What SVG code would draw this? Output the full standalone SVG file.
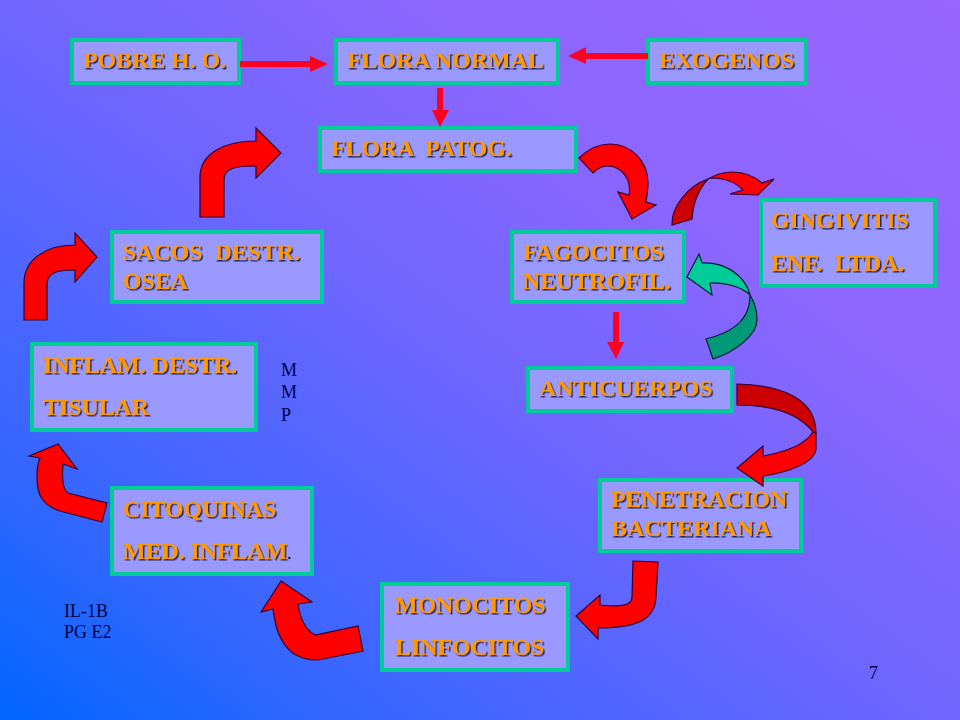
<svg xmlns="http://www.w3.org/2000/svg" width="960" height="720" viewBox="0 0 960 720">
<defs>
<linearGradient id="bg" x1="0" y1="1" x2="1" y2="0"><stop offset="0" stop-color="#0066ff"/><stop offset="0.2" stop-color="#3866ff"/><stop offset="0.5" stop-color="#7066ff"/><stop offset="0.72" stop-color="#8c66ff"/><stop offset="1" stop-color="#9966ff"/></linearGradient>
<filter id="sh" x="-5%" y="-20%" width="110%" height="140%"><feDropShadow dx="1.5" dy="1.5" stdDeviation="0.3" flood-color="#222255"/></filter>
</defs>
<style>
.box{fill:#9999ff;stroke:#00cc99;stroke-width:4}
.t{font:bold 23.85px "Liberation Serif","Times New Roman",serif;fill:#ff9900;filter:url(#sh);white-space:pre}
.s{font:18px "Liberation Serif","Times New Roman",serif;fill:#000044}
.a{fill:#ff0000;stroke:#330033;stroke-width:1.2}
.d{fill:#cc0000;stroke:#330033;stroke-width:1.2}
.g{fill:#00cc99;stroke:#002233;stroke-width:1.2}
.gd{fill:#009977;stroke:#002233;stroke-width:1.2}
.f{fill:#ff0022}
</style>
<rect width="960" height="720" fill="url(#bg)"/>
<g id="pobre"><rect class="box" x="72" y="40" width="167" height="43"/><text class="t" x="83" y="68">POBRE H. O.</text></g>
<g id="flora-normal"><rect class="box" x="336" y="40" width="222" height="43"/><text class="t" x="347" y="68">FLORA NORMAL</text></g>
<g id="exogenos"><rect class="box" x="648" y="40" width="158" height="43"/><text class="t" x="659" y="68">EXOGENOS</text></g>
<g id="flora-patog"><rect class="box" x="320" y="128" width="256" height="43"/><text class="t" x="331" y="156">FLORA  PATOG.</text></g>
<g id="sacos"><rect class="box" x="112" y="232" width="210" height="70"/><text class="t" x="123" y="260">SACOS  DESTR.</text><text class="t" x="123" y="289">OSEA</text></g>
<g id="fagocitos"><rect class="box" x="512" y="232" width="172" height="70"/><text class="t" x="523" y="260">FAGOCITOS</text><text class="t" x="523" y="289">NEUTROFIL.</text></g>
<g id="gingivitis"><rect class="box" x="761" y="200" width="174" height="86"/><text class="t" x="771" y="228">GINGIVITIS</text><text class="t" x="771" y="271">ENF.  LTDA.</text></g>
<g id="anticuerpos"><rect class="box" x="528" y="368" width="204" height="43"/><text class="t" x="539" y="396">ANTICUERPOS</text></g>
<g id="penetracion"><rect class="box" x="600" y="480" width="201" height="71"/><text class="t" x="611" y="507">PENETRACION</text><text class="t" x="611" y="536">BACTERIANA</text></g>
<g id="monocitos"><rect class="box" x="382" y="584" width="186" height="86"/><text class="t" x="395" y="613">MONOCITOS</text><text class="t" x="395" y="655">LINFOCITOS</text></g>
<g id="citoquinas"><rect class="box" x="112" y="488" width="200" height="86"/><text class="t" x="123" y="517">CITOQUINAS</text><text class="t" x="123" y="559">MED. INFLAM</text><text class="s" x="287" y="559">.</text></g>
<g id="inflam"><rect class="box" x="32" y="344" width="224" height="86"/><text class="t" x="43" y="373">INFLAM. DESTR.</text><text class="t" x="43" y="415">TISULAR</text></g>
<g id="connectors">
<path class="f" d="M240 61H310V56L328 64L310 72V67H240Z"/>
<path class="f" d="M648 53H586V47L568 56L586 64V59H648Z"/>
<path class="f" d="M437 88H443V110H449L440 127L432 110H437Z"/>
<path class="f" d="M613 312H619V342H624L616 359L607 342H613Z"/>
<path class="a" d="M200 217V177C200 155 222 141 256 141V128L281 153L256 178V166C235 166 224 168 224 180V217Z"/>
<path class="a" d="M24 320V283C24 260 45 245 75 245V233L97 257L75 282V270C57 270 47 272 47 285V320Z"/>
<path class="a" d="M29 456L58 444L77 469L63 464C62 475 62 489 68 493L107 503L102 522L60 511C42 505 37 495 37 477C37 468 38 462 40 458Z"/>
<path class="a" d="M281 581L312 602L298 604C300 618 306 630 315 635L358 626L363 651L318 660C296 660 285 650 278 632C275 624 274 616 273 609L261 612Z"/>
<path class="a" d="M633 561L658 562L656 597C655 618 640 628 598 628V639L576 616L600 595V605C620 607 632 606 632 597Z"/>
<path class="d" d="M737 384C780 385 816 398 816 433L813 432C800 415 775 405 737 405Z"/>
<path class="a" d="M816 433V448C816 462 790 472 763 476V486L737 468L763 446V456C785 452 805 445 813 432Z"/>
<path class="a" d="M579 158C588 149 598 144 610 144C632 144 648 162 648 183C648 190 647 196 646 202L656 205L632 219L618 192L629 195C632 180 622 166 607 166C601 166 597 169 593 173Z"/>
<path class="d" d="M672 225C671 208 687 186 708 179C698 190 693 203 692 219Z"/>
<path class="a" d="M708 179C716 174 725 172 733 172C745 172 755 177 762 183L774 179L758 195L730 194L743 190C738 184 730 180 717 178C713 178 710 178 708 179Z"/>
<path class="gd" d="M750 295C755 303 757 310 757 320C757 335 735 352 713 359L706 339C730 333 750 322 750 295Z"/>
<path class="g" d="M687 277L699 254L702 263C725 262 745 275 750 295C742 287 725 282 710 283L712 295Z"/>
</g>
<g id="labels"><text class="s" x="281" y="376">M</text><text class="s" x="281" y="398">M</text><text class="s" x="281" y="421">P</text><text class="s" x="64" y="617">IL-1B</text><text class="s" x="64" y="638">PG E2</text><text class="s" x="869" y="679">7</text></g>
</svg>
